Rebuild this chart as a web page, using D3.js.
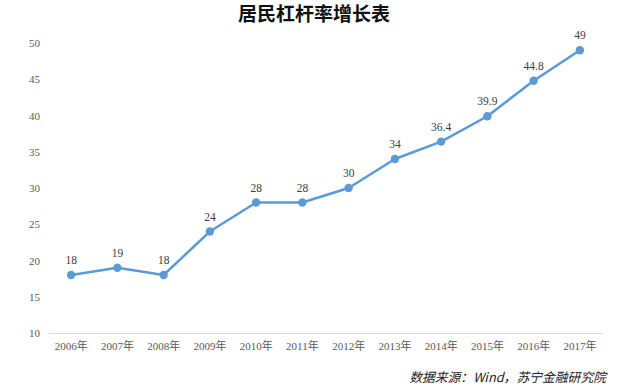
<!DOCTYPE html>
<html>
<head>
<meta charset="utf-8">
<script src="https://cdn.jsdelivr.net/npm/d3@7"></script>
<style>
  body { margin: 0; background: #fff; }
  svg text { font-family: "Liberation Serif", "Noto Sans CJK SC", serif; }
</style>
</head>
<body>
<svg id="chart" width="622" height="386"></svg>
<script>
// chart data
var years = ["2006年", "2007年", "2008年", "2009年", "2010年", "2011年",
             "2012年", "2013年", "2014年", "2015年", "2016年", "2017年"];
var values = [18, 19, 18, 24, 28, 28, 30, 34, 36.4, 39.9, 44.8, 49];
var yTicks = [10, 15, 20, 25, 30, 35, 40, 45, 50];

var svg = d3.select("#chart");

var x = d3.scaleBand().domain(years).range([48, 603]);
var y = d3.scaleLinear().domain([10, 50]).range([333, 43]);

// title
svg.append("text")
  .attr("x", 314)
  .attr("y", 21)
  .attr("text-anchor", "middle")
  .attr("font-size", "19px")
  .attr("font-weight", "bold")
  .attr("fill", "#111")
  .style("font-family", "'Noto Sans CJK SC', sans-serif")
  .text("居民杠杆率增长表");

// y axis labels only (no line, no grid)
var yAxis = svg.append("g")
  .attr("transform", "translate(40,0)")
  .call(d3.axisLeft(y).tickValues(yTicks).tickSize(0).tickPadding(0));
yAxis.select(".domain").remove();
yAxis.selectAll("text")
  .attr("fill", "#595959")
  .attr("font-size", "11px")
  .style("font-family", "'Liberation Serif', serif");

// x axis
var xAxis = svg.append("g")
  .attr("transform", "translate(0,333)")
  .call(d3.axisBottom(x).tickSize(0).tickPadding(9));
xAxis.select(".domain").attr("stroke", "#d9d9d9").attr("stroke-width", 1);
xAxis.selectAll("text")
  .attr("fill", "#595959")
  .attr("font-size", "11px")
  .style("font-family", "'Liberation Serif', 'Noto Sans CJK SC', serif");

var cx = function(d, i) { return x(years[i]) + x.bandwidth() / 2; };

// line
var line = d3.line()
  .x(function(d, i) { return cx(d, i); })
  .y(function(d) { return y(d); });

svg.append("path")
  .datum(values)
  .attr("fill", "none")
  .attr("stroke", "#5b9bd5")
  .attr("stroke-width", 2.5)
  .attr("stroke-linejoin", "round")
  .attr("d", line);

// markers
svg.selectAll("circle.pt")
  .data(values)
  .enter()
  .append("circle")
  .attr("class", "pt")
  .attr("cx", cx)
  .attr("cy", function(d) { return y(d); })
  .attr("r", 4.2)
  .attr("fill", "#5b9bd5");

// data labels
svg.selectAll("text.lbl")
  .data(values)
  .enter()
  .append("text")
  .attr("class", "lbl")
  .attr("x", cx)
  .attr("y", function(d) { return y(d) - 11; })
  .attr("text-anchor", "middle")
  .attr("font-size", "11.5px")
  .attr("fill", "#404040")
  .text(function(d) { return d; });

// source note
svg.append("text")
  .attr("x", 606)
  .attr("y", 382)
  .attr("text-anchor", "end")
  .attr("font-size", "12.8px")
  .attr("font-style", "italic")
  .attr("fill", "#222")
  .style("font-family", "'Noto Sans CJK SC', sans-serif")
  .text("数据来源：Wind，苏宁金融研究院");
</script>
</body>
</html>
